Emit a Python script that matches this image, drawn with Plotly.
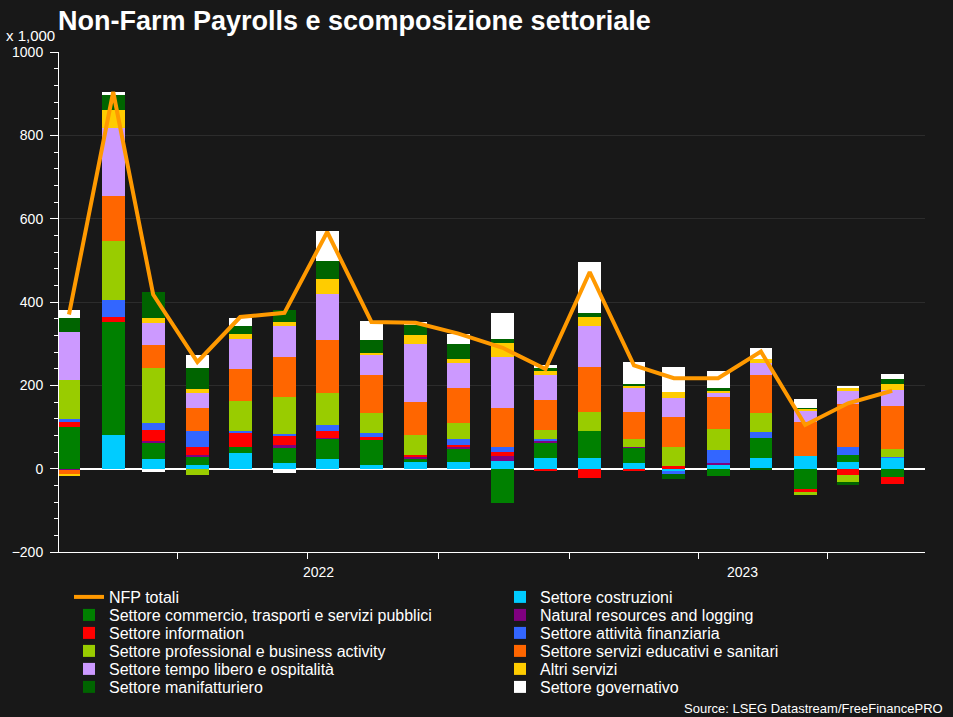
import plotly.graph_objects as go

# ---------------- data (thousands of jobs) ----------------
months = ["2022-01-15", "2022-02-15", "2022-03-15", "2022-04-15", "2022-05-15",
          "2022-06-15", "2022-07-15", "2022-08-15", "2022-09-15", "2022-10-15",
          "2022-11-15", "2022-12-15", "2023-01-15", "2023-02-15", "2023-03-15",
          "2023-04-15", "2023-05-15", "2023-06-15", "2023-07-15", "2023-08-15"]

nfp_totali     = [370, 904, 418, 256, 364, 374, 568, 352, 350, 324, 290, 239, 472, 248, 217, 217, 281, 105, 157, 187]
costruzioni    = [-2, 80, 24, 8, 38, 14, 24, 10, 16, 16, 18, 26, 26, 14, -5, 10, 26, 30, 17, 26]
commercio      = [100, 273, 38, 20, 14, 36, 48, 59, 8, 32, -83, 36, 64, 36, 0, -18, 48, -48, 17, -20]
natural_res    = [-2, 0, 4, 6, 0, 8, 2, 0, 6, 4, 12, 6, 0, 2, 0, 4, 0, 0, 0, 0]
information    = [12, 12, 28, 19, 34, 20, 16, 8, 2, 4, 11, -6, -22, -6, 6, 0, 0, -10, -14, -16]
finanziaria    = [8, 40, 15, 37, 4, 6, 14, 9, 0, 16, 12, 4, 0, 0, -8, 32, 15, 0, 19, 2]
professional   = [92, 141, 133, -16, 72, 89, 78, 48, 48, 37, 0, 22, 45, 20, 47, 50, 45, -4, -20, 19]
educativi      = [-8, 108, 55, 56, 78, 96, 126, 91, 80, 85, 93, 72, 109, 65, 72, 76, 90, 82, 103, 103]
tempo_libero   = [116, 164, 53, 36, 72, 73, 112, 48, 139, 60, 123, 58, 98, 56, 45, 10, 29, 26, 30, 40]
altri_servizi  = [-5, 43, 12, 10, 12, 10, 36, 5, 21, 10, 32, 10, 22, 7, 14, 4, 11, 6, 8, 13]
manifatturiero = [33, 36, 63, 50, 18, 30, 42, 31, 26, 36, 11, 8, 10, 4, -12, 8, -3, 2, -4, 13]
governativo    = [20, 8, -8, 30, 20, -11, 72, 45, 5, 24, 62, 7, 121, 52, 60, 40, 26, 22, 3, 11]

year_labels = ["2022", "2023"]
year_label_dates = ["2022-07-09", "2023-05-02"]

# ---------------- styling ----------------
FONT = "Liberation Sans, Arial, sans-serif"
BG = "#181818"

# stacking order (bottom -> top), names, colours, legend column/row
series = [
    ("Settore costruzioni", costruzioni, "#00CCFF", 1, 0),
    ("Settore commercio, trasporti e servizi pubblici", commercio, "#008000", 0, 1),
    ("Natural resources and logging", natural_res, "#800080", 1, 1),
    ("Settore information", information, "#FF0000", 0, 2),
    ("Settore attività finanziaria", finanziaria, "#3366FF", 1, 2),
    ("Settore professional e business activity", professional, "#99CC00", 0, 3),
    ("Settore servizi educativi e sanitari", educativi, "#FF6600", 1, 3),
    ("Settore tempo libero e ospitalità", tempo_libero, "#CC99FF", 0, 4),
    ("Altri servizi", altri_servizi, "#FFCC00", 1, 4),
    ("Settore manifatturiero", manifatturiero, "#006400", 0, 5),
    ("Settore governativo", governativo, "#FFFFFF", 1, 5),
]

# plot area in pixels
PL, PR, PT, PB = 57, 925, 52, 552
W, H = 953, 717
pw, ph = PR - PL, PB - PT

def px_x(x):
    return (x - PL) / pw

def px_y(y):
    return (PB - y) / ph

col_left = [67, 499]
row_y = [597, 615, 633, 651, 669, 687]

fig = go.Figure()
legend_layouts = {}
BAR_W = 16 * 86400000

legend_idx = 2
for name, vals, color, col, row in series:
    lid = f"legend{legend_idx}"
    legend_idx += 1
    fig.add_trace(go.Bar(
        x=months, y=vals, name=name, width=BAR_W,
        marker=dict(color=color, line=dict(width=0)),
        legend=lid,
    ))
    legend_layouts[lid] = dict(
        x=px_x(col_left[col]), y=px_y(row_y[row]), xanchor="left", yanchor="middle",
        bgcolor="rgba(0,0,0,0)", font=dict(family=FONT, size=16, color="white"),
    )

fig.add_trace(go.Scatter(
    x=months, y=nfp_totali, name="NFP totali", mode="lines",
    line=dict(color="#FF9900", width=4), legend="legend",
))
legend_layouts["legend"] = dict(
    x=px_x(col_left[0]), y=px_y(row_y[0]), xanchor="left", yanchor="middle",
    bgcolor="rgba(0,0,0,0)", font=dict(family=FONT, size=16, color="white"),
)

annotations = [
    dict(text="x 1,000", xref="paper", yref="paper", x=px_x(2), y=px_y(36),
         xanchor="left", yanchor="middle", showarrow=False,
         font=dict(family=FONT, size=15, color="white")),
    dict(text="Source: LSEG Datastream/FreeFinancePRO", xref="paper", yref="paper",
         x=px_x(945), y=px_y(708), xanchor="right", yanchor="middle", showarrow=False,
         font=dict(family=FONT, size=13, color="white")),
]
for lab, d in zip(year_labels, year_label_dates):
    annotations.append(dict(text=lab, xref="x", yref="paper", x=d, y=px_y(572),
                            xanchor="center", yanchor="middle", showarrow=False,
                            font=dict(family=FONT, size=14, color="white")))

fig.update_layout(
    width=W, height=H,
    margin=dict(l=PL, r=W - PR, t=PT, b=H - PB, pad=0),
    paper_bgcolor=BG, plot_bgcolor=BG,
    barmode="relative", bargap=0,
    title=dict(text="<b>Non-Farm Payrolls e scomposizione settoriale</b>",
               xref="container", yref="container", x=58 / W, y=1 - 21 / H,
               xanchor="left", yanchor="middle",
               font=dict(family=FONT, size=27, color="white")),
    xaxis=dict(type="date", range=["2022-01-08", "2023-09-07"],
               showgrid=False, zeroline=False, showline=True, linecolor="white",
               linewidth=1, ticks="outside", ticklen=6, tickcolor="white",
               tick0="2022-01-01", dtick="M3", showticklabels=False),
    yaxis=dict(range=[-200, 1000], tick0=0, dtick=200, showgrid=True,
               gridcolor="#2c2c2c", gridwidth=1, zeroline=True,
               zerolinecolor="white", zerolinewidth=1.5, showline=True,
               linecolor="white", linewidth=1, ticks="outside", ticklen=8,
               tickcolor="white", ticklabelstandoff=4,
               tickfont=dict(family=FONT, size=14, color="white"),
               minor=dict(dtick=40, tick0=0, ticks="outside", ticklen=4,
                          tickcolor="white", showgrid=False)),
    annotations=annotations,
    showlegend=True,
    **legend_layouts,
)

fig.write_html("out.html", config={"displayModeBar": False},
               post_script="document.body.style.margin='0';")
